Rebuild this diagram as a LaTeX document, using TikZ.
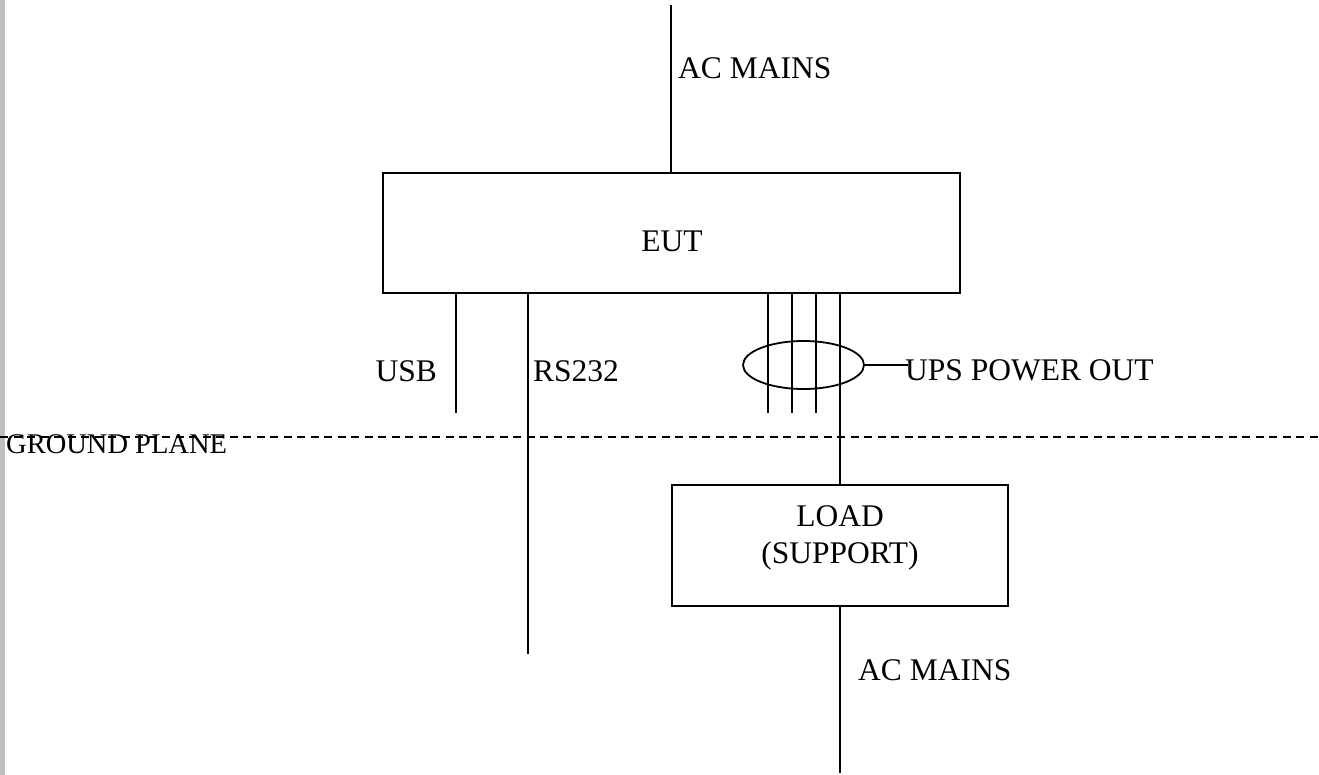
\documentclass[tikz,border=0pt]{standalone}
\usepackage{fontspec}
\setmainfont{Liberation Serif}
\usetikzlibrary{shapes.geometric}
\begin{document}
\begin{tikzpicture}[x=1pt,y=-1pt,
  wire/.style={line width=2pt},
  boxnode/.style={draw,line width=2pt,inner sep=0pt,minimum width=#1},
  txt/.style={inner sep=0pt,font=\fontsize{31.5}{36}\selectfont},
  smalltxt/.style={inner sep=0pt,font=\fontsize{28.5}{33}\selectfont},
  gplane/.style={line width=1.8pt,dash pattern=on 8pt off 5.5pt}]
\useasboundingbox (0,0) rectangle (1319,775);
\fill[black!25] (0,0) rectangle (5,775);
% boxes
\node (eut) [boxnode=577pt,minimum height=120pt] at (671.5,233) {};
\node (load) [boxnode=336pt,minimum height=121pt] at (840,545.5) {};
\node (bundle) [draw,ellipse,line width=1.8pt,inner sep=0pt,minimum width=121pt,minimum height=48pt] at (803.5,365) {};
% free ends
\coordinate (acin) at (671,5);
\coordinate (usbend) at (456,413);
\coordinate (rsend) at (528,654);
\coordinate (pa) at (768,413);
\coordinate (pb) at (792,413);
\coordinate (pc) at (816,413);
\coordinate (acout) at (840,773);
\coordinate (upsend) at (908,365);
\coordinate (gl) at (0,437);
\coordinate (gr) at (1319,437);
% ground plane
\draw[gplane] (gl) -- (gr);
% wires
\draw[wire] (acin) -- (acin |- eut.north);
\draw[wire] (usbend |- eut.south) -- (usbend);
\draw[wire] (rsend |- eut.south) -- (rsend);
\draw[wire] (pa |- eut.south) -- (pa);
\draw[wire] (pb |- eut.south) -- (pb);
\draw[wire] (pc |- eut.south) -- (pc);
\draw[wire] (load.north |- eut.south) -- (load.north);
\draw[wire] (load.south) -- (acout);
\draw[line width=1.8pt] (bundle.east) -- (upsend);
% labels
\node (acinlabel) [txt,anchor=base west] at (678,79) {AC MAINS};
\node (eutlabel) [txt,anchor=base] at (672,252) {EUT};
\node (usblabel) [txt,anchor=base east] at (437,381) {USB};
\node (rslabel) [txt,anchor=base west] at (533,381) {RS232};
\node (upslabel) [txt,anchor=base west] at (905,380) {UPS POWER OUT};
\node (gplabel) [smalltxt,anchor=base west] at (6,453) {GROUND PLANE};
\node (loadlabel) [txt,anchor=base] at (840,526) {LOAD};
\node (supportlabel) [txt,anchor=base] at (840,563) {(SUPPORT)};
\node (acoutlabel) [txt,anchor=base west] at (858,680) {AC MAINS};
\end{tikzpicture}
\end{document}
